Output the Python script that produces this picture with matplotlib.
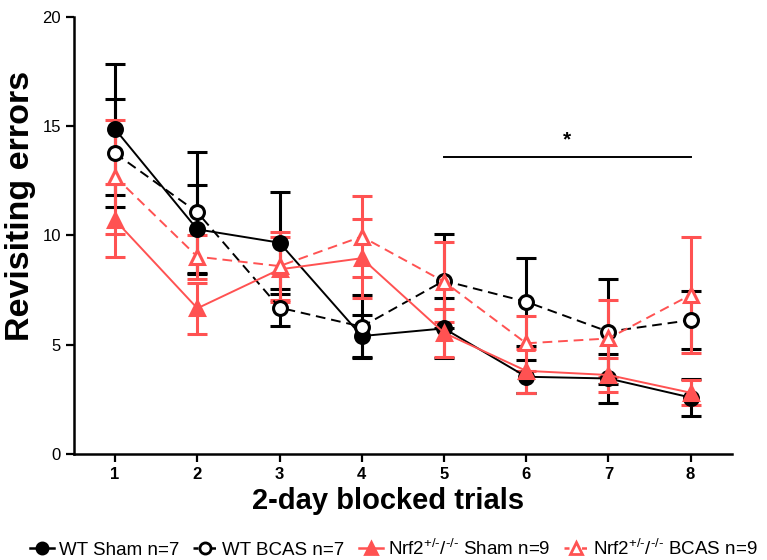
import matplotlib
matplotlib.use("Agg")
import matplotlib.pyplot as plt
from matplotlib.lines import Line2D

plt.rcParams['font.family'] = ['Liberation Sans', 'DejaVu Sans']
plt.rcParams['mathtext.fontset'] = 'custom'
plt.rcParams['mathtext.rm'] = 'Liberation Sans'

trials = [1, 2, 3, 4, 5, 6, 7, 8]

wt_sham = [14.86, 10.28, 9.67, 5.40, 5.75, 3.54, 3.46, 2.59]
wt_sham_err = [3.0, 2.03, 2.33, 0.95, 1.37, 0.76, 1.14, 0.85]

wt_bcas = [13.76, 11.06, 6.70, 5.83, 7.93, 6.97, 5.60, 6.13]
wt_bcas_err = [2.47, 2.78, 0.85, 1.45, 2.14, 2.02, 2.41, 1.32]

nrf_sham = [10.70, 6.67, 8.45, 8.96, 5.55, 3.81, 3.62, 2.81]
nrf_sham_err = [1.67, 1.16, 1.50, 1.80, 1.10, 1.00, 0.80, 0.58]

nrf_bcas = [12.69, 9.03, 8.60, 9.95, 7.89, 5.07, 5.29, 7.28]
nrf_bcas_err = [2.60, 1.00, 1.55, 1.86, 1.83, 1.25, 1.76, 2.65]

sig_start, sig_end, sig_y = 5, 8, 13.6

labels = ['WT Sham n=7', 'WT BCAS n=7',
          r'Nrf2$^{\text{+/-}}$/$^{\text{-/-}}$ Sham n=9',
          r'Nrf2$^{\text{+/-}}$/$^{\text{-/-}}$ BCAS n=9']

RED = '#FF5252'

fig = plt.figure(figsize=(7.67, 5.60), dpi=100)
ax = fig.add_axes([0.0965, 0.189, 0.8575, 0.781])

styles = [
    (wt_sham, wt_sham_err, 'black', '-', 'o', 'black'),
    (wt_bcas, wt_bcas_err, 'black', '--', 'o', 'white'),
    (nrf_sham, nrf_sham_err, RED, '-', '^', RED),
    (nrf_bcas, nrf_bcas_err, RED, '--', '^', 'white'),
]

handles = []
for vals, err, col, ls, mk, face in styles:
    dash = (5, 3) if ls == '--' else (None, None)
    ax.errorbar(trials, vals, yerr=err, color=col, ls=ls, lw=1.4,
                marker=mk, ms=10, mfc=face, mec=col, mew=2.2,
                elinewidth=2.2, capsize=7, capthick=2.2, dashes=dash)
    # legend shows line + marker only, no error caps
    handles.append(Line2D([], [], color=col, ls=ls, lw=1.8,
                          dashes=(2, 1.5) if ls == '--' else (None, None),
                          marker=mk, ms=8, mfc=face, mec=col, mew=2))

ax.plot([sig_start, sig_end], [sig_y, sig_y], color='black', lw=1.4)
ax.text((sig_start + sig_end) / 2, sig_y + 0.35, '*', ha='center', va='bottom',
        fontsize=15, fontweight='bold')

ax.set_xlim(0.5, 8.5)
ax.set_ylim(0, 20)
ax.set_xticks(trials)
ax.set_yticks([0, 5, 10, 15, 20])
ax.tick_params(axis='both', direction='out', length=6, width=1.6, labelsize=12)
for t in ax.get_xticklabels():
    t.set_fontweight('bold')

for s in ['top', 'right']:
    ax.spines[s].set_visible(False)
for s in ['left', 'bottom']:
    ax.spines[s].set_linewidth(1.8)

ax.set_xlabel('2-day blocked trials', fontsize=21, fontweight='bold')
ax.xaxis.set_label_coords(0.477, -0.075)
ax.set_ylabel('Revisiting errors', fontsize=24.5, fontweight='bold')
ax.yaxis.set_label_coords(-0.058, 0.567)

fig.legend(handles, labels, loc='center left', bbox_to_anchor=(0.029, 0.021),
           ncol=4, frameon=False, fontsize=13.5,
           handlelength=1.3, handletextpad=0.25, columnspacing=0.75, borderaxespad=0)

fig.savefig('out.png', dpi=100)
